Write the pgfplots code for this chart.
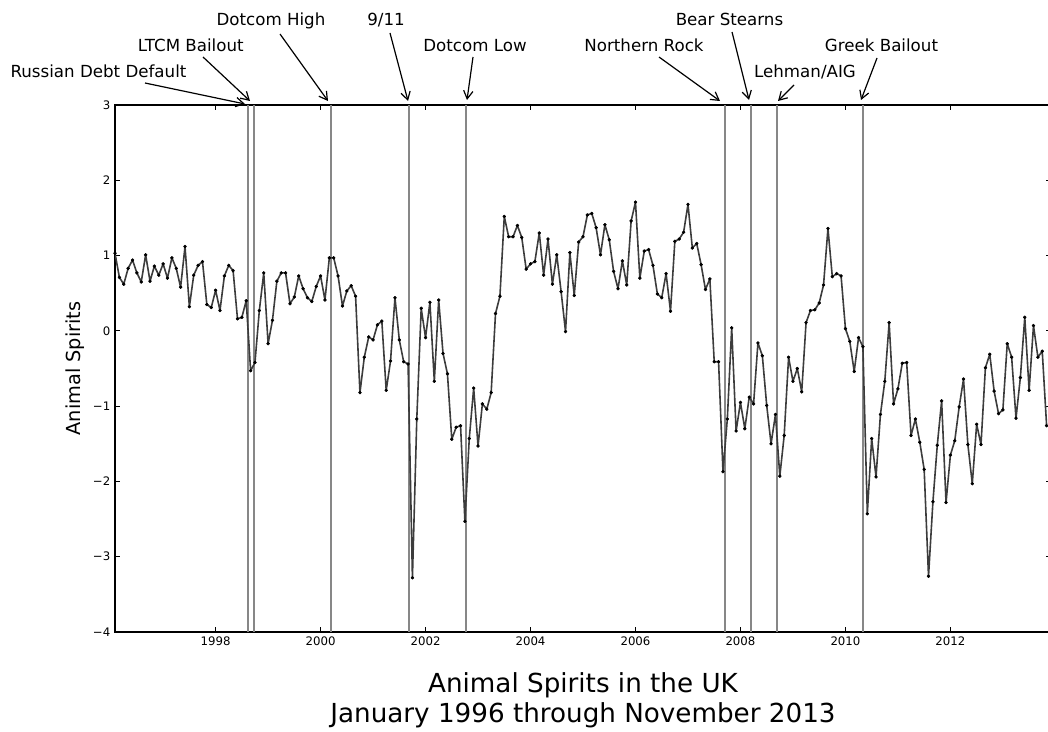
\documentclass[border=0pt]{standalone}
\usepackage{fontspec}
\setmainfont{DejaVu Sans}
\usepackage{pgfplots}
\pgfplotsset{compat=1.18}
\usetikzlibrary{arrows.meta}
\definecolor{serie}{RGB}{60,60,60}
\definecolor{evline}{RGB}{135,135,135}
\begin{document}
\begin{tikzpicture}
\begin{axis}[
  at={(86.25pt,-474pt)}, anchor=south west,
  scale only axis, width=702pt, height=395.25pt,
  xmin=1996.083, xmax=2013.917, ymin=-4, ymax=3,
  xtick={1998,2000,2002,2004,2006,2008,2010,2012},
  xticklabels={1998,2000,2002,2004,2006,2008,2010,2012},
  ytick={-4,-3,-2,-1,0,1,2,3},
  yticklabels={−4,−3,−2,−1,0,1,2,3},
  minor tick num=0,
  tick pos=both, tick align=inside, major tick length=3.75pt,
  ticklabel style={font=\fontsize{8.8pt}{10pt}\selectfont},
  axis line style={line width=1.1pt},
  every tick/.style={black, line width=0.7pt},
  ylabel={Animal Spirits},
  ylabel style={at={(axis description cs:-0.0427,0.5)}, anchor=center, font=\fontsize{14.5pt}{17pt}\selectfont},
  xlabel={Animal Spirits in the UK\\January 1996 through November 2013},
  xlabel style={at={(axis description cs:0.5,-0.0759)}, anchor=north, align=center, inner sep=0pt, font=\fontsize{19.65pt}{22.5pt}\selectfont},
]
\addplot[evline, line width=1.5pt] coordinates {(1998.625,-4) (1998.625,3)};
\addplot[evline, line width=1.5pt] coordinates {(1998.726,-4) (1998.726,3)};
\addplot[evline, line width=1.5pt] coordinates {(2000.189,-4) (2000.189,3)};
\addplot[evline, line width=1.5pt] coordinates {(2001.693,-4) (2001.693,3)};
\addplot[evline, line width=1.5pt] coordinates {(2002.770,-4) (2002.770,3)};
\addplot[evline, line width=1.5pt] coordinates {(2007.701,-4) (2007.701,3)};
\addplot[evline, line width=1.5pt] coordinates {(2008.205,-4) (2008.205,3)};
\addplot[evline, line width=1.5pt] coordinates {(2008.705,-4) (2008.705,3)};
\addplot[evline, line width=1.5pt] coordinates {(2010.332,-4) (2010.332,3)};
\addplot[serie, line width=1.2pt, line join=round, mark=*, mark size=1.1pt, mark options={black, fill=black, line width=0.4pt}] coordinates {
(1996.083,1.03) (1996.167,0.71) (1996.25,0.62) (1996.333,0.83) (1996.417,0.94) (1996.5,0.77) (1996.583,0.65) (1996.667,1.01) (1996.75,0.66) (1996.833,0.86) (1996.917,0.74) (1997,0.89)
(1997.083,0.70) (1997.167,0.97) (1997.25,0.83) (1997.333,0.58) (1997.417,1.12) (1997.5,0.32) (1997.583,0.74) (1997.667,0.87) (1997.75,0.92) (1997.833,0.35) (1997.917,0.31) (1998,0.54)
(1998.083,0.27) (1998.167,0.73) (1998.25,0.87) (1998.333,0.80) (1998.417,0.16) (1998.5,0.18) (1998.583,0.40) (1998.667,-0.53) (1998.75,-0.42) (1998.833,0.27) (1998.917,0.77) (1999,-0.17)
(1999.083,0.14) (1999.167,0.66) (1999.25,0.77) (1999.333,0.77) (1999.417,0.36) (1999.5,0.45) (1999.583,0.73) (1999.667,0.56) (1999.75,0.44) (1999.833,0.39) (1999.917,0.59) (2000,0.73)
(2000.083,0.41) (2000.167,0.97) (2000.25,0.97) (2000.333,0.73) (2000.417,0.33) (2000.5,0.53) (2000.583,0.60) (2000.667,0.46) (2000.75,-0.82) (2000.833,-0.35) (2000.917,-0.08) (2001,-0.12)
(2001.083,0.08) (2001.167,0.13) (2001.25,-0.79) (2001.333,-0.40) (2001.417,0.44) (2001.5,-0.12) (2001.583,-0.41) (2001.667,-0.44) (2001.75,-3.28) (2001.833,-1.17) (2001.917,0.30) (2002,-0.09)
(2002.083,0.38) (2002.167,-0.67) (2002.25,0.41) (2002.333,-0.30) (2002.417,-0.57) (2002.5,-1.44) (2002.583,-1.28) (2002.667,-1.26) (2002.75,-2.53) (2002.833,-1.43) (2002.917,-0.76) (2003,-1.53)
(2003.083,-0.97) (2003.167,-1.04) (2003.25,-0.82) (2003.333,0.23) (2003.417,0.46) (2003.5,1.52) (2003.583,1.25) (2003.667,1.25) (2003.75,1.40) (2003.833,1.24) (2003.917,0.82) (2004,0.89)
(2004.083,0.92) (2004.167,1.30) (2004.25,0.74) (2004.333,1.22) (2004.417,0.62) (2004.5,1.01) (2004.583,0.52) (2004.667,-0.01) (2004.75,1.04) (2004.833,0.47) (2004.917,1.18) (2005,1.25)
(2005.083,1.54) (2005.167,1.56) (2005.25,1.37) (2005.333,1.01) (2005.417,1.41) (2005.5,1.21) (2005.583,0.79) (2005.667,0.56) (2005.75,0.93) (2005.833,0.61) (2005.917,1.46) (2006,1.71)
(2006.083,0.70) (2006.167,1.06) (2006.25,1.08) (2006.333,0.87) (2006.417,0.49) (2006.5,0.44) (2006.583,0.76) (2006.667,0.26) (2006.75,1.19) (2006.833,1.22) (2006.917,1.31) (2007,1.68)
(2007.083,1.10) (2007.167,1.16) (2007.25,0.88) (2007.333,0.55) (2007.417,0.69) (2007.5,-0.41) (2007.583,-0.41) (2007.667,-1.87) (2007.75,-1.17) (2007.833,0.04) (2007.917,-1.33) (2008,-0.95)
(2008.083,-1.30) (2008.167,-0.88) (2008.25,-0.97) (2008.333,-0.16) (2008.417,-0.33) (2008.5,-0.99) (2008.583,-1.50) (2008.667,-1.11) (2008.75,-1.93) (2008.833,-1.39) (2008.917,-0.35) (2009,-0.67)
(2009.083,-0.50) (2009.167,-0.81) (2009.25,0.11) (2009.333,0.27) (2009.417,0.28) (2009.5,0.37) (2009.583,0.61) (2009.667,1.36) (2009.75,0.72) (2009.833,0.76) (2009.917,0.73) (2010,0.03)
(2010.083,-0.14) (2010.167,-0.54) (2010.25,-0.09) (2010.333,-0.21) (2010.417,-2.43) (2010.5,-1.43) (2010.583,-1.94) (2010.667,-1.11) (2010.75,-0.67) (2010.833,0.11) (2010.917,-0.97) (2011,-0.77)
(2011.083,-0.43) (2011.167,-0.42) (2011.25,-1.39) (2011.333,-1.17) (2011.417,-1.48) (2011.5,-1.84) (2011.583,-3.26) (2011.667,-2.27) (2011.75,-1.52) (2011.833,-0.93) (2011.917,-2.28) (2012,-1.65)
(2012.083,-1.46) (2012.167,-1.01) (2012.25,-0.64) (2012.333,-1.51) (2012.417,-2.03) (2012.5,-1.24) (2012.583,-1.51) (2012.667,-0.49) (2012.75,-0.31) (2012.833,-0.80) (2012.917,-1.10) (2013,-1.05)
(2013.083,-0.17) (2013.167,-0.35) (2013.25,-1.16) (2013.333,-0.62) (2013.417,0.18) (2013.5,-0.79) (2013.583,0.07) (2013.667,-0.35) (2013.75,-0.27) (2013.833,-1.26)
};
\end{axis}
\begin{scope}[x=0.75pt, y=-0.75pt, every node/.style={font=\fontsize{12.5pt}{15pt}\selectfont, anchor=base, inner sep=0pt}]
\tikzset{ann/.style={-{Straight Barb[length=6pt,width=7pt]}, line width=0.9pt, black}}
\node at (98.5,78) {Russian Debt Default};
\draw[ann] (145,83) -- (245,104);
\node at (190.8,52) {LTCM Bailout};
\draw[ann] (203,57) -- (250,101);
\node at (271,26) {Dotcom High};
\draw[ann] (280,34) -- (328,101);
\node at (386,26) {9/11};
\draw[ann] (390,33) -- (408,101);
\node at (475,52) {Dotcom Low};
\draw[ann] (473,57) -- (467,100);
\node at (644,52) {Northern Rock};
\draw[ann] (659,57) -- (720,101);
\node at (729.5,26) {Bear Stearns};
\draw[ann] (732,32) -- (749,100);
\node at (805,78) {Lehman/AIG};
\draw[ann] (794,85) -- (778,101);
\node at (881.5,52) {Greek Bailout};
\draw[ann] (877,58) -- (861,100);
\pgfresetboundingbox
\path[use as bounding box] (0,0) rectangle (1048,731);
\end{scope}
\end{tikzpicture}
\end{document}
